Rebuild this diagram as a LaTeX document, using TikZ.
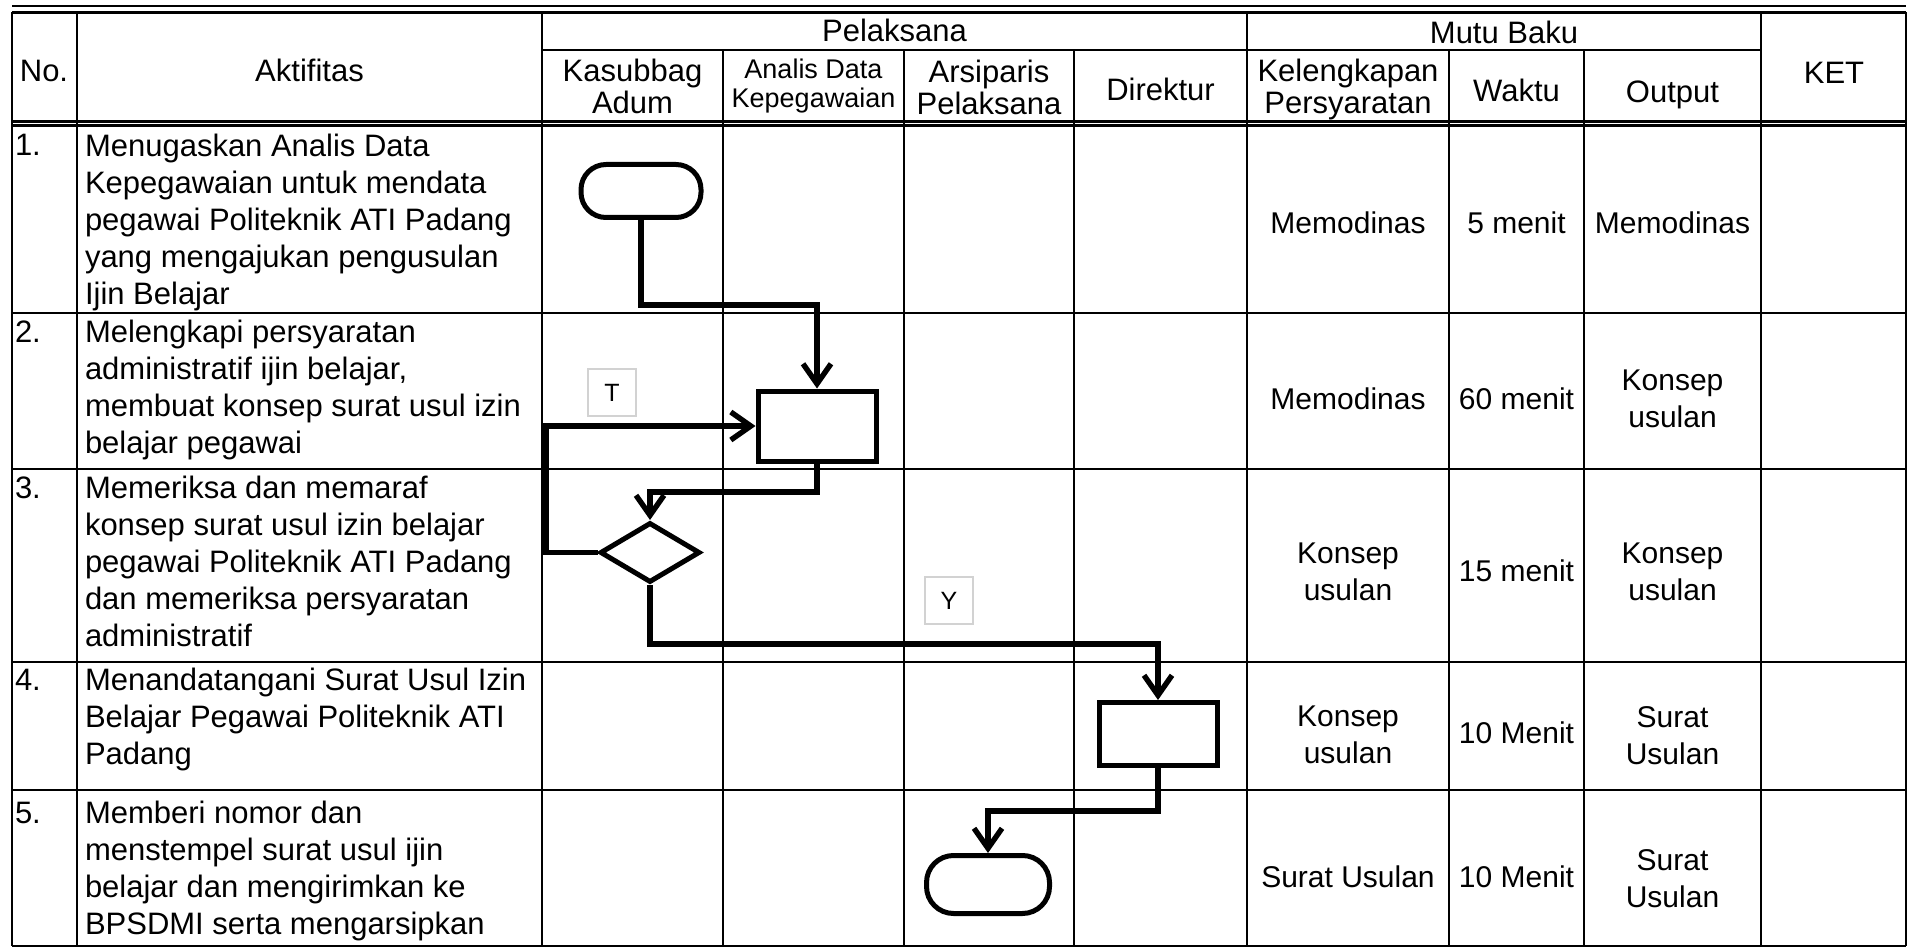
\documentclass[tikz,border=0pt]{standalone}
\usepackage{fontspec}
\setmainfont{Liberation Sans}
\usetikzlibrary{arrows.meta,shapes.geometric,calc}
\begin{document}
\begin{tikzpicture}[x=0.5pt,y=-0.5pt,
  tbl/.style={line width=1.1pt},
  bodytxt/.style={font=\fontsize{15}{18.5}\selectfont, inner sep=0pt, outer sep=0pt},
  headtxt/.style={font=\fontsize{15.5}{16}\selectfont, inner sep=0pt, outer sep=0pt, align=center},
  celltxt/.style={bodytxt, align=center},
  acttxt/.style={bodytxt, font=\fontsize{15.5}{18.5}\selectfont, align=left, anchor=north west},
  numtxt/.style={bodytxt, font=\fontsize{15.5}{18.5}\selectfont, anchor=base west},
  shpbase/.style={draw, line width=2.5pt, fill=white, inner sep=0pt},
  termbox/.style={shpbase, rounded corners=12.5pt, minimum width=60pt, minimum height=26.5pt},
  procbox/.style={shpbase, minimum width=59pt, minimum height=35pt},
  decbox/.style={shpbase, diamond, minimum width=50pt, minimum height=30pt},
  flowarrow/.style={line width=2.7pt, -{Straight Barb[length=10pt,width=14pt]}},
  lblbox/.style={draw=gray!35, line width=0.7pt, fill=white, minimum width=24pt, minimum height=23.5pt, inner sep=0pt, font=\fontsize{12.5}{14}\selectfont},
]
\useasboundingbox (0,0) rectangle (1910,952);

% ---------- table grid ----------
\draw[tbl] (12,6) -- (1906,6);
\draw[tbl] (12,12.5) -- (1906,12.5);
\draw[tbl] (12,121.5) -- (1906,121.5);
\draw[tbl] (12,125.5) -- (1906,125.5);
\foreach \yy in {313,469,662,790,946}
  \draw[tbl] (12,\yy) -- (1906,\yy);
\draw[tbl] (542,50) -- (1761,50);
\foreach \xx in {12,77,542,1247,1761,1906}
  \draw[tbl] (\xx,12.5) -- (\xx,946);
\foreach \xx in {723,904,1074,1449,1584}
  \draw[tbl] (\xx,50) -- (\xx,946);

% ---------- header ----------
\node[headtxt, anchor=base] (hno) at (44,82) {No.};
\node[headtxt, anchor=base] (hakt) at (309.5,82) {Aktifitas};
\node[headtxt, anchor=base] (hpel) at (894.5,42) {Pelaksana};
\node[headtxt, anchor=base] (hmutu) at (1504,44) {Mutu Baku};
\node[headtxt, anchor=base] (hket) at (1834,84) {KET};
\node[headtxt] (hkas) at (632.5,86.5) {Kasubbag\\Adum};
\node[headtxt, font=\fontsize{13.5}{14.5}\selectfont] (hana) at (813.5,86) {Analis Data\\Kepegawaian};
\node[headtxt] (hars) at (989,87.5) {Arsiparis\\Pelaksana};
\node[headtxt, anchor=base] (hdir) at (1160.5,101) {Direktur};
\node[headtxt] (hkel) at (1348,89.5) {Kelengkapan\\Persyaratan};
\node[headtxt, anchor=base] (hwak) at (1516.5,102) {Waktu};
\node[headtxt, anchor=base] (hout) at (1672.5,103) {Output};

% ---------- numbers and activities ----------
\node[numtxt] (n1) at (15,156) {1.};
\node[numtxt] (n2) at (15,342) {2.};
\node[numtxt] (n3) at (15,498) {3.};
\node[numtxt] (n4) at (15,690) {4.};
\node[numtxt] (n5) at (15,823) {5.};
\node[acttxt] (a1) at (85,134) {Menugaskan Analis Data\\Kepegawaian untuk mendata\\pegawai Politeknik ATI Padang\\yang mengajukan pengusulan\\Ijin Belajar};
\node[acttxt] (a2) at (85,320) {Melengkapi persyaratan\\administratif ijin belajar,\\membuat konsep surat usul izin\\belajar pegawai};
\node[acttxt] (a3) at (85,476) {Memeriksa dan memaraf\\konsep surat usul izin belajar\\pegawai Politeknik ATI Padang\\dan memeriksa persyaratan\\administratif};
\node[acttxt] (a4) at (85,668) {Menandatangani Surat Usul Izin\\Belajar Pegawai Politeknik ATI\\Padang};
\node[acttxt] (a5) at (85,801) {Memberi nomor dan\\menstempel surat usul ijin\\belajar dan mengirimkan ke\\BPSDMI serta mengarsipkan};

% ---------- mutu baku ----------
\node[celltxt, anchor=base] (k1) at (1348,234) {Memodinas};
\node[celltxt, anchor=base] (w1) at (1516.5,234) {5 menit};
\node[celltxt, anchor=base] (o1) at (1672.5,234) {Memodinas};
\node[celltxt, anchor=base] (k2) at (1348,409) {Memodinas};
\node[celltxt, anchor=base] (w2) at (1516.5,409) {60 menit};
\node[celltxt] (o2) at (1672.5,399) {Konsep\\usulan};
\node[celltxt] (k3) at (1348,572) {Konsep\\usulan};
\node[celltxt, anchor=base] (w3) at (1516.5,581) {15 menit};
\node[celltxt] (o3) at (1672.5,572) {Konsep\\usulan};
\node[celltxt] (k4) at (1348,735) {Konsep\\usulan};
\node[celltxt, anchor=base] (w4) at (1516.5,743) {10 Menit};
\node[celltxt] (o4) at (1672.5,736) {Surat\\Usulan};
\node[celltxt, anchor=base] (k5) at (1348,887) {Surat Usulan};
\node[celltxt, anchor=base] (w5) at (1516.5,887) {10 Menit};
\node[celltxt] (o5) at (1672.5,879) {Surat\\Usulan};

% ---------- flowchart ----------
\node[termbox] (start) at (641,191) {};
\node[procbox] (p2) at (817,426) {};
\node[decbox] (d3) at (650,552.5) {};
\node[procbox, minimum height=31.5pt] (p4) at (1158,734) {};
\node[termbox, minimum width=61.5pt, minimum height=29pt, rounded corners=13.5pt] (stop) at (988,884.5) {};
\node[lblbox] (lt) at (612,392.5) {T};
\node[lblbox] (ly) at (949,600.5) {Y};

\coordinate (j1) at (0,305);
\coordinate (j2) at (0,492);
\coordinate (jx) at (546,0);
\coordinate (j4) at (0,644);
\coordinate (j5) at (0,811);

\draw[flowarrow] (start.south) -- (start.south |- j1) -| (p2.north);
\draw[flowarrow] (p2.south) -- (p2.south |- j2) -| (d3.north);
\draw[flowarrow] (d3.west) -- (d3.west -| jx) |- (p2.west);
\draw[flowarrow] (d3.south) -- (d3.south |- j4) -| (p4.north);
\draw[flowarrow] (p4.south) -- (p4.south |- j5) -| (stop.north);
\end{tikzpicture}
\end{document}
